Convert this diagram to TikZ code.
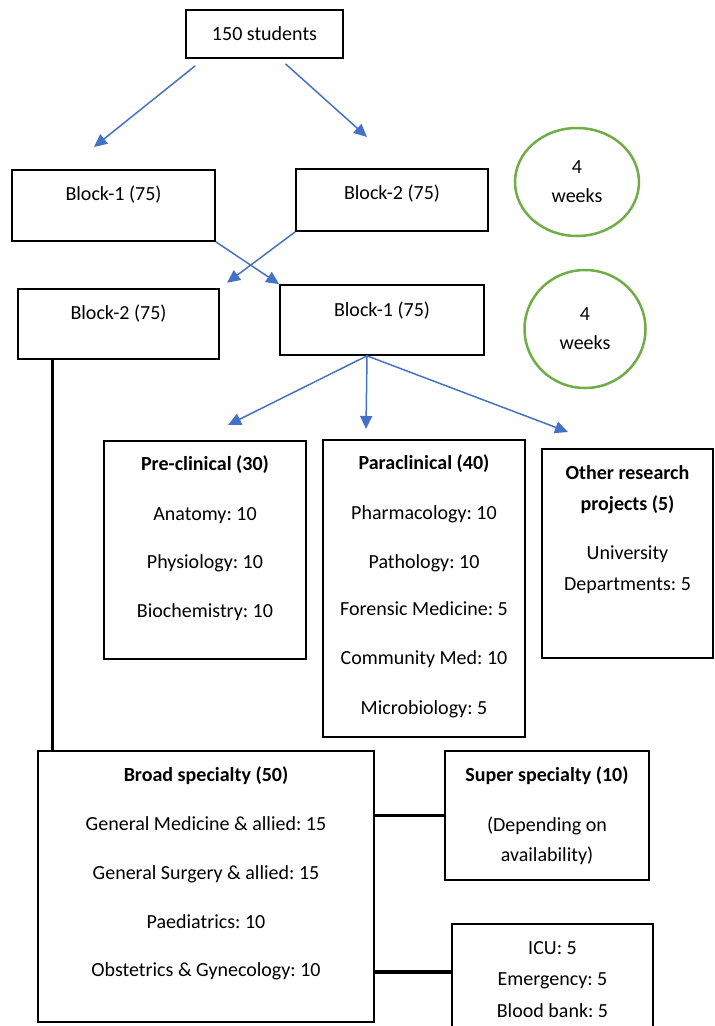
\documentclass[tikz,border=0pt]{standalone}
\usepackage{fontspec}
\setmainfont{Carlito}
\usetikzlibrary{arrows.meta,positioning,shapes.geometric}
\definecolor{flowblue}{RGB}{68,114,196}
\definecolor{weekgreen}{RGB}{112,173,71}
\frenchspacing

\begin{document}
\begin{tikzpicture}[x=1pt,y=-1pt,font=\fontsize{20}{24}\selectfont,
    box/.style={draw,line width=1.7pt,inner sep=0pt},
    line/.style={anchor=base,inner sep=0pt},
    flow/.style={draw=flowblue,line width=1.5pt,-{Triangle[length=13pt,width=12pt]}},
    link/.style={line width=3.2pt},
    weeks/.style={draw=weekgreen,line width=2.5pt,ellipse,inner sep=0pt,align=center,
      font=\fontsize{20}{29}\selectfont}]
  \useasboundingbox (0,0) rectangle (715,1026);

  % top split
  \node[box,minimum width=157,minimum height=48] (stud) at (264.5,34) {150 students};
  \node[box,minimum width=203,minimum height=71] (blkA) at (113.5,205.5) {};
  \node[box,minimum width=192,minimum height=62] (blkB) at (392,200) {};
  \node[box,minimum width=201,minimum height=70] (blkC) at (118.5,324) {};
  \node[box,minimum width=204,minimum height=70] (blkD) at (382,320) {};
  \node[line] (blkA-t) at (113.5,200) {Block-1 (75)};
  \node[line] (blkB-t) at (392,199) {Block-2 (75)};
  \node[line] (blkC-t) at (118.5,319) {Block-2 (75)};
  \node[line] (blkD-t) at (382,316) {Block-1 (75)};

  \node[weeks,minimum width=124,minimum height=108] (wkA) at (577,182) {4\\weeks};
  \node[weeks,minimum width=121,minimum height=118] (wkB) at (585,329) {4\\weeks};

  \coordinate (tipA) at (94,147);
  \coordinate (tipB) at (367,137);
  \draw[flow] ([shift={(10pt,-7pt)}]stud.south west) -- (tipA);
  \draw[flow] ([shift={(21pt,-5pt)}]stud.south) -- (tipB);
  \draw[flow] (blkA.south east) -- (blkD.north west);
  \draw[flow,shorten >=9pt] (blkB.south west) -- (blkC.north east);

  % second block
  \node[box,minimum width=202,minimum height=218] (pre) at (205,550) {};
  \node[box,minimum width=202,minimum height=297] (para) at (424,588.5) {};
  \node[box,minimum width=171,minimum height=209] (other) at (627.5,553.5) {};

  \coordinate (fork) at ([xshift=-15pt]blkD.south);
  \coordinate (tipPre) at (228,425);
  \coordinate (tipPara) at (366,429);
  \coordinate (tipOther) at (568,432);
  \foreach \t in {tipPre,tipPara,tipOther}
    \draw[flow] (fork) -- (\t);

  \foreach \y/\t [count=\i] in {464/\textbf{Pre-clinical (30)},514/Anatomy: 10,
      562/Physiology: 10,611/Biochemistry: 10}
    \node[line] (pre-\i) at (205,\y+6) {\t};
  \foreach \y/\t [count=\i] in {463/\textbf{Paraclinical (40)},513/Pharmacology: 10,
      562/Pathology: 10,609/Forensic Medicine: 5,658/Community Med: 10,708/Microbiology: 5}
    \node[line] (para-\i) at (424,\y+6) {\t};
  \foreach \y/\t [count=\i] in {473/\textbf{Other research},504/\textbf{projects (5)},
      553/University,584/Departments: 5}
    \node[line] (other-\i) at (627.5,\y+6) {\t};

  % clinical postings
  \node[box,minimum width=336,minimum height=271] (broad) at (206,886.5) {};
  \node[box,minimum width=204,minimum height=129] (super) at (547,815.5) {};
  \node[box,minimum width=201,minimum height=120] (icu) at (552.5,984) {};

  \foreach \y/\t [count=\i] in {775/\textbf{Broad specialty (50)},824/General Medicine \& allied: 15,
      873/General Surgery \& allied: 15,922/Paediatrics: 10,970/Obstetrics \& Gynecology: 10}
    \node[line] (broad-\i) at (206,\y+6) {\t};
  \foreach \y/\t [count=\i] in {775/\textbf{Super specialty (10)},825/(Depending on,855/availability)}
    \node[line] (super-\i) at (547,\y+6) {\t};
  \foreach \y/\t [count=\i] in {948/ICU: 5,979/Emergency: 5,1011/Blood bank: 5}
    \node[line] (icu-\i) at (552.5,\y+6) {\t};

  \coordinate (drop) at ([xshift=35pt]blkC.south west);
  \coordinate (icuin) at ([yshift=12pt]icu.west);
  \draw[link] (drop) -- (drop |- broad.north);
  \draw[link] (super.west) -- (super.west -| broad.east);
  \draw[link] (icuin) -- (icuin -| broad.east);
\end{tikzpicture}
\end{document}
